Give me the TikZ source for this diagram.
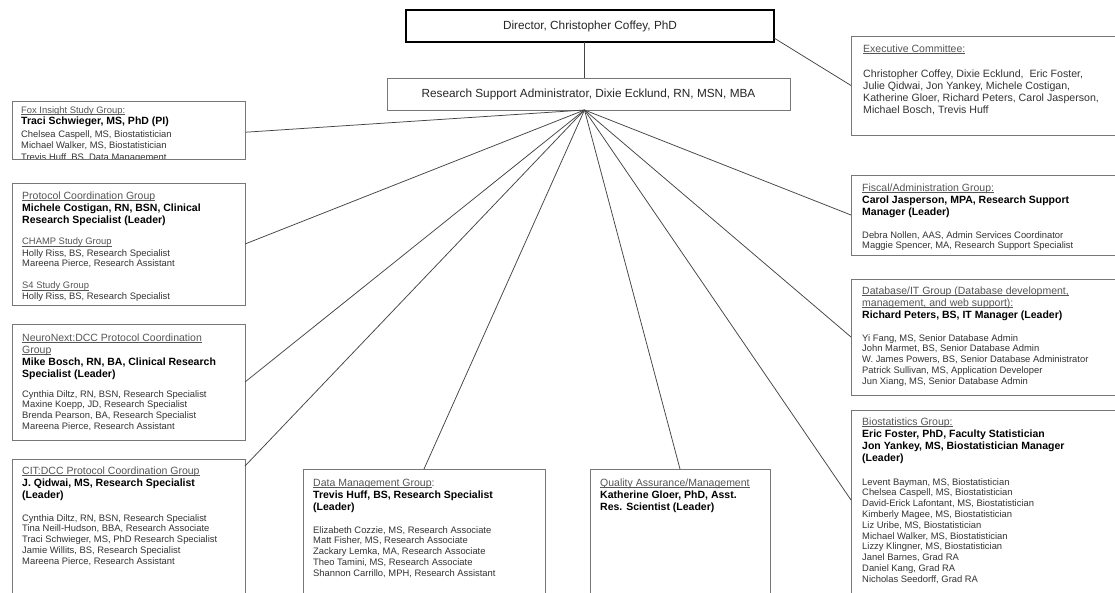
\documentclass[tikz,border=0pt]{standalone}
\usepackage{fontspec}
\setmainfont{Liberation Sans}
\usetikzlibrary{calc}
\definecolor{boxline}{HTML}{777777}
\definecolor{txt}{HTML}{333333}
\definecolor{ttlc}{HTML}{555555}
\definecolor{wire}{HTML}{444444}
% underlined heading text, rule close under the baseline
\newcommand\undl[1]{$\underline{\smash{\hbox{#1}}}$}
% stacked lines whose reference point is the first baseline
\newcommand\stack[1]{\begin{tabular}[t]{@{}l@{}}#1\end{tabular}}
\begin{document}
\begin{tikzpicture}[x=1pt,y=-1pt,
  box/.style={draw=boxline, line width=0.9pt, fill=white, inner sep=0pt, outer sep=0pt, rectangle},
  topbox/.style={box, draw=black, line width=1.3pt},
  ttl/.style={anchor=base west, inner sep=0pt, text=ttlc, font=\fontsize{9.4}{10.8}\selectfont},
  ttlbig/.style={anchor=base west, inner sep=0pt, text=ttlc, font=\fontsize{10.5}{12}\selectfont},
  ldr/.style={anchor=base west, inner sep=0pt, text=black, font=\fontsize{10.5}{12.2}\selectfont\bfseries},
  mem/.style={anchor=base west, inner sep=0pt, text=txt, font=\fontsize{9.4}{10.8}\selectfont},
  membig/.style={anchor=base west, inner sep=0pt, text=txt, font=\fontsize{10.6}{12}\selectfont},
  head/.style={anchor=center, inner sep=0pt, text=black!85, font=\fontsize{11.8}{14}\selectfont},
  conn/.style={draw=wire, line width=0.75pt}]
\useasboundingbox (0,0) rectangle (1115,592);
\clip (0,0) rectangle (1115,592);
\fill[white] (0,0) rectangle (1115,592);

% ---- boxes ----
\node[topbox, minimum width=368, minimum height=32] (dir) at (590,26) {};
\node[box, minimum width=403, minimum height=32] (rsa) at (588.5,94) {};
\node[box, minimum width=274, minimum height=99] (exec) at (988,85.5) {};
\node[box, minimum width=233, minimum height=58.5] (fox) at (128.5,130.25) {};
\node[box, minimum width=233, minimum height=122] (proto) at (128.5,244) {};
\node[box, minimum width=233, minimum height=116] (neuro) at (128.5,382) {};
\node[box, minimum width=233, minimum height=151] (cit) at (128.5,534.5) {};
\node[box, minimum width=242, minimum height=141] (dm) at (424,539.5) {};
\node[box, minimum width=180, minimum height=141] (qa) at (680,539.5) {};
\node[box, minimum width=274, minimum height=80] (fisc) at (988,215) {};
\node[box, minimum width=274, minimum height=116] (db) at (988,337) {};
\node[box, minimum width=274, minimum height=200] (bio) at (988,510) {};

% ---- connectors ----
\coordinate (hub) at ($(rsa.south)+(-4,0)$);
\draw[conn] (dir.south -| hub) -- (rsa.north -| hub);
\draw[conn] ($(dir.south east)+(0,-4)$) -- (exec.west);
\draw[conn] (hub) -- ($(fox.east)+(0,2)$);
\draw[conn] (hub) -- (proto.east);
\draw[conn] (hub) -- (neuro.east);
\draw[conn] (hub) -- ($(cit.north east)+(0,7)$);
\draw[conn] (hub) -- (dm.north);
\draw[conn] (hub) -- (qa.north);
\draw[conn] (hub) -- ($(bio.west)+(0,-10)$);
\draw[conn] (hub) -- (db.west);
\draw[conn] (hub) -- (fisc.west);

% ---- headings ----
\node[head] (dirT) at (dir) {Director, Christopher Coffey, PhD};
\node[head] (rsaT) at (rsa) {Research Support Administrator, Dixie Ecklund, RN, MSN, MBA};

% ---- executive committee ----
\node[ttlbig] (execT) at (863,52) {\undl{Executive Committee:}};
\node[membig] (execM) at (863,77) {\stack{Christopher Coffey, Dixie Ecklund,\ \ Eric Foster,\\Julie Qidwai, Jon Yankey, Michele Costigan,\\Katherine Gloer, Richard Peters, Carol Jasperson,\\Michael Bosch, Trevis Huff}};

% ---- Fox Insight ----
\begin{scope}
\clip (fox.south west) rectangle (fox.north east);
\node[ttl] (foxT) at (21,113) {\undl{Fox Insight Study Group:}};
\node[ldr] (foxL) at (21,124.5) {Traci Schwieger, MS, PhD (PI)};
\node[mem] (foxM) at (21,137) {\stack{Chelsea Caspell, MS, Biostatistician\\[0.8pt]Michael Walker, MS, Biostatistician\\[0.8pt]Trevis Huff, BS, Data Management}};
\end{scope}
\draw[boxline, line width=0.9pt] (fox.south west) rectangle (fox.north east);

% ---- Protocol Coordination ----
\node[ttlbig] (protoT) at (22,199) {\undl{Protocol Coordination Group}};
\node[ldr] (protoL) at (22,211) {\stack{Michele Costigan, RN, BSN, Clinical\\Research Specialist (Leader)}};
\node[ttl] (champT) at (22,244.5) {\undl{CHAMP Study Group}};
\node[mem] (champM) at (22,256) {\stack{Holly Riss, BS, Research Specialist\\Mareena Pierce, Research Assistant}};
\node[ttl] (sfourT) at (22,288.5) {\undl{S4 Study Group}};
\node[mem] (sfourM) at (22,299.5) {Holly Riss, BS, Research Specialist};

% ---- NeuroNext ----
\node[ttlbig] (neuroT) at (22,341) {\stack{\undl{NeuroNext:DCC Protocol Coordination}\\\undl{Group}}};
\node[ldr] (neuroL) at (22,365) {\stack{Mike Bosch, RN, BA, Clinical Research\\Specialist (Leader)}};
\node[mem] (neuroM) at (22,397) {\stack{Cynthia Diltz, RN, BSN, Research Specialist\\Maxine Koepp, JD, Research Specialist\\Brenda Pearson, BA, Research Specialist\\Mareena Pierce, Research Assistant}};

% ---- CIT ----
\node[ttlbig] (citT) at (22,474) {\undl{CIT:DCC Protocol Coordination Group}};
\node[ldr] (citL) at (22,486) {\stack{J. Qidwai, MS, Research Specialist\\(Leader)}};
\node[mem] (citM) at (22,521) {\stack{Cynthia Diltz, RN, BSN, Research Specialist\\Tina Neill-Hudson, BBA, Research Associate\\Traci Schwieger, MS, PhD Research Specialist\\Jamie Willits, BS, Research Specialist\\Mareena Pierce, Research Assistant}};

% ---- Data Management ----
\node[ttlbig] (dmT) at (313,486) {\undl{Data Management Group}:};
\node[ldr] (dmL) at (313,498) {\stack{Trevis Huff, BS, Research Specialist\\(Leader)}};
\node[mem] (dmM) at (313,533) {\stack{Elizabeth Cozzie, MS, Research Associate\\Matt Fisher, MS, Research Associate\\Zackary Lemka, MA, Research Associate\\Theo Tamini, MS, Research Associate\\Shannon Carrillo, MPH, Research Assistant}};

% ---- Quality Assurance ----
\node[ttlbig] (qaT) at (600,486) {\undl{Quality Assurance/Management}};
\node[ldr] (qaL) at (600,498) {\stack{Katherine Gloer, PhD, Asst.\\Res. Scientist (Leader)}};

% ---- Fiscal ----
\node[ttlbig] (fiscT) at (862,191) {\undl{Fiscal/Administration Group:}};
\node[ldr] (fiscL) at (862,203) {\stack{Carol Jasperson, MPA, Research Support\\Manager (Leader)}};
\node[mem] (fiscM) at (862,238) {\stack{Debra Nollen, AAS, Admin Services Coordinator\\Maggie Spencer, MA, Research Support Specialist}};

% ---- Database/IT ----
\node[ttlbig] (dbT) at (862,294) {\stack{\undl{Database/IT Group (Database development,}\\\undl{management, and web support):}}};
\node[ldr] (dbL) at (862,318) {Richard Peters, BS, IT Manager (Leader)};
\node[mem] (dbM) at (862,341) {\stack{Yi Fang, MS, Senior Database Admin\\John Marmet, BS, Senior Database Admin\\W. James Powers, BS, Senior Database Administrator\\Patrick Sullivan, MS, Application Developer\\Jun Xiang, MS, Senior Database Admin}};

% ---- Biostatistics ----
\node[ttlbig] (bioT) at (862,425) {\undl{Biostatistics Group:}};
\node[ldr] (bioL) at (862,437) {\stack{Eric Foster, PhD, Faculty Statistician\\Jon Yankey, MS, Biostatistician Manager\\(Leader)}};
\node[mem] (bioM) at (862,485) {\stack{Levent Bayman, MS, Biostatistician\\Chelsea Caspell, MS, Biostatistician\\David-Erick Lafontant, MS, Biostatistician\\Kimberly Magee, MS, Biostatistician\\Liz Uribe, MS, Biostatistician\\Michael Walker, MS, Biostatistician\\Lizzy Klingner, MS, Biostatistician\\Janel Barnes, Grad RA\\Daniel Kang, Grad RA\\Nicholas Seedorff, Grad RA}};
\end{tikzpicture}
\end{document}
